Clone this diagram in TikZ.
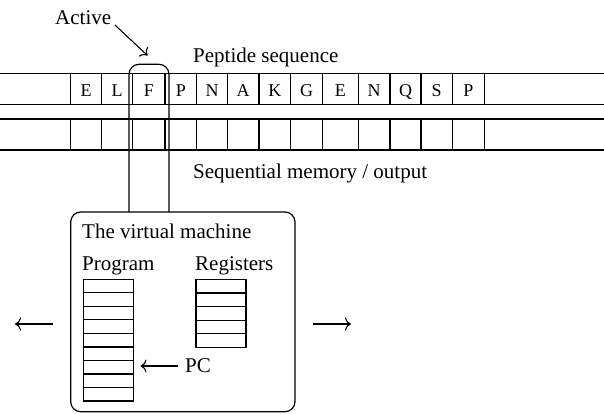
\documentclass[tikz,border=0pt]{standalone}
\usepackage{fontspec}
\setmainfont{Liberation Serif}
\usetikzlibrary{arrows.meta}
\tikzset{
  lbl/.style={inner sep=0pt, anchor=base west, font=\fontsize{21}{24}\selectfont},
  cellletter/.style={inner sep=0pt, anchor=base, font=\fontsize{18}{20}\selectfont},
  ln/.style={line width=1.2pt},
  arr/.style={line width=1.1pt, -{To[length=6pt,width=13pt]}},
}
\begin{document}
\begin{tikzpicture}[x=1pt,y=-1pt]
\useasboundingbox (0,0) rectangle (604,413);
% sequence strip
\draw[ln] (0,73.3) -- (604,73.3);
\draw[ln] (0,104.3) -- (604,104.3);
\draw[ln] (0,119) -- (604,119);
\draw[ln] (0,150) -- (604,150);
\foreach \x in {70.7,101.7,132.7,165,196.7,227.3,259,290.7,322.3,358.3,390,421,452.3,484.3}{
  \draw[ln] (\x,73.3) -- (\x,104.3);
  \draw[ln] (\x,119) -- (\x,150);
}
% cell letters
\def\cb{96.7}
\node[cellletter] (c1) at (86.2,\cb) {E};
\node[cellletter] (c2) at (117.2,\cb) {L};
\node[cellletter] (c3) at (148.9,\cb) {F};
\node[cellletter] (c4) at (180.9,\cb) {P};
\node[cellletter] (c5) at (212,\cb) {N};
\node[cellletter] (c6) at (243.2,\cb) {A};
\node[cellletter] (c7) at (274.9,\cb) {K};
\node[cellletter] (c8) at (306.5,\cb) {G};
\node[cellletter] (c9) at (340.3,\cb) {E};
\node[cellletter] (c10) at (374.2,\cb) {N};
\node[cellletter] (c11) at (405.5,\cb) {Q};
\node[cellletter] (c12) at (436.7,\cb) {S};
\node[cellletter] (c13) at (468.3,\cb) {P};
% virtual machine box
\draw[ln, rounded corners=10pt] (70.7,212) rectangle (295,411.7);
% active window
\draw[ln, rounded corners=10pt] (129,212) -- (129,64.3) -- (169,64.3) -- (169,212);
\coordinate (activetail) at (115,25);
\coordinate (activetip) at (147.5,55.5);
% labels
\node[lbl] (active) at (55,24.5) {Active};
\node[lbl] (pep) at (193,62) {Peptide sequence};
\node[lbl] (mem) at (193,178) {Sequential memory / output};
\node[lbl] (vmt) at (82,238) {The virtual machine};
\node[lbl] (prog) at (82,270) {Program};
\node[lbl] (regs) at (195,270) {Registers};
\node[lbl] (pc) at (185,372.5) {PC};
\draw[arr] (activetail) -- (activetip);
% program stack
\draw[ln] (83.7,279.3) rectangle (133.7,401);
\foreach \i in {1,...,8}{
  \draw[ln] (83.7,{279.3+13.52*\i}) -- (133.7,{279.3+13.52*\i});
}
\coordinate (progpc) at (140.5,366);
% registers
\draw[ln] (196,279.3) rectangle (246,347.3);
\foreach \i in {1,...,4}{
  \draw[ln] (196,{279.3+13.6*\i}) -- (246,{279.3+13.6*\i});
}
\coordinate (pctail) at (178,366);
\draw[arr] (pctail) -- (progpc);
% side arrows
\coordinate (la) at (53,324);
\coordinate (lb) at (15,324);
\coordinate (ra) at (313,324);
\coordinate (rb) at (351,324);
\draw[arr] (la) -- (lb);
\draw[arr] (ra) -- (rb);
\end{tikzpicture}
\end{document}
